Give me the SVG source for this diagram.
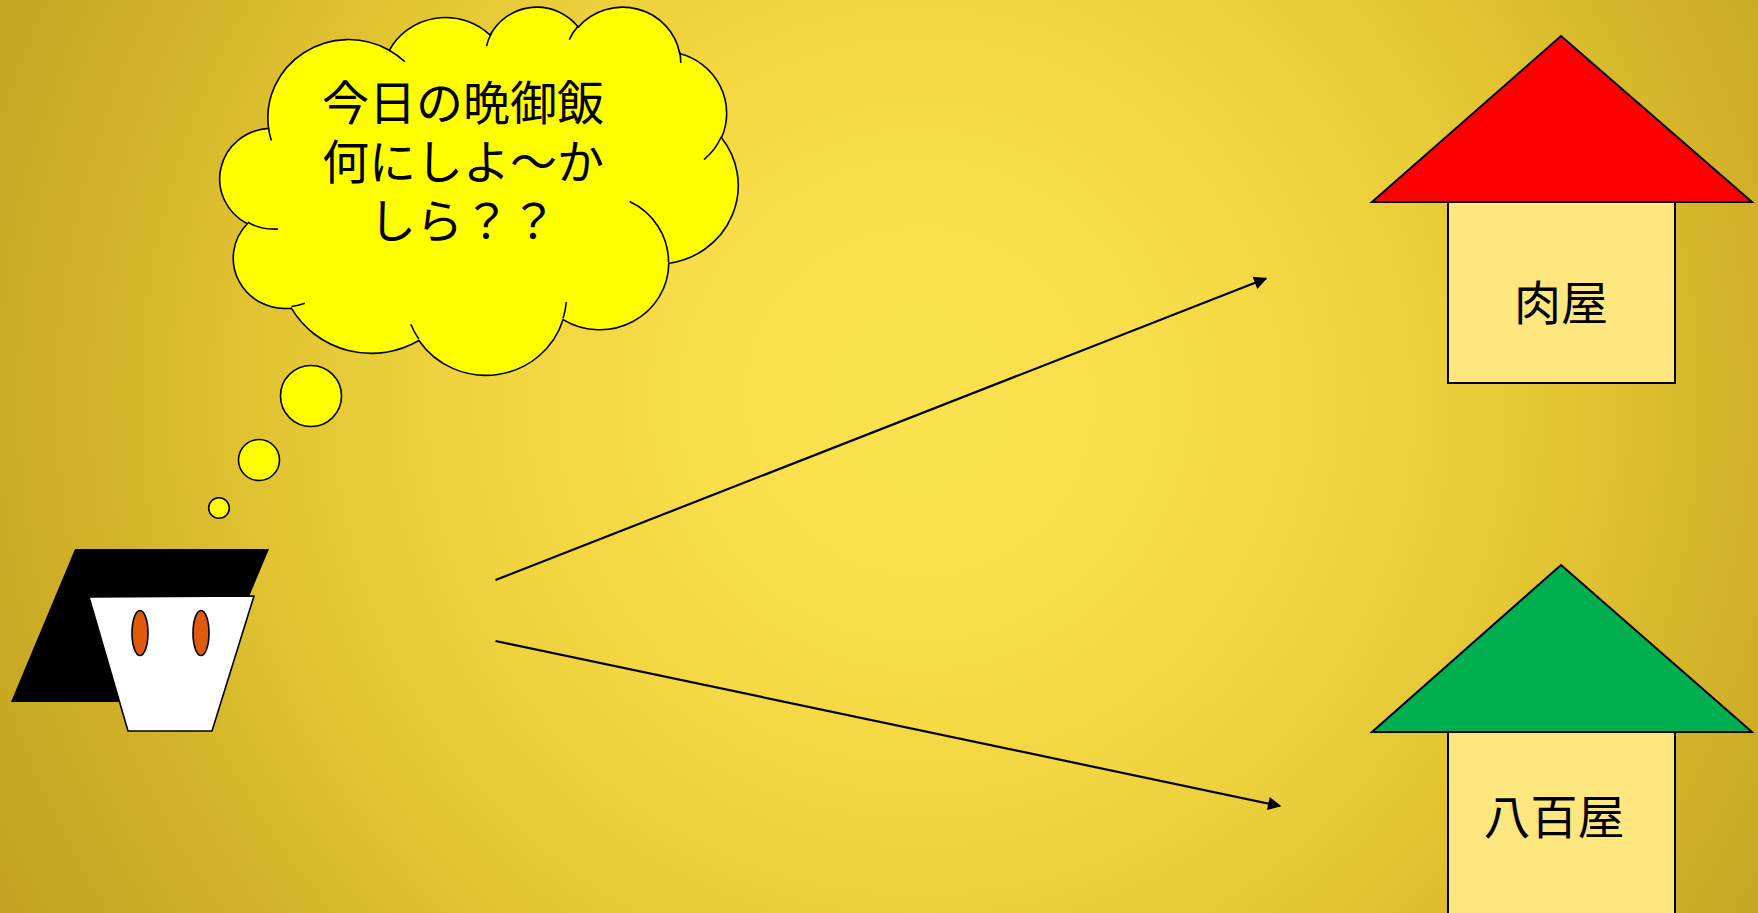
<svg xmlns="http://www.w3.org/2000/svg" width="1758" height="913" viewBox="0 0 1758 913">
  <defs>
    <radialGradient id="bg" gradientUnits="userSpaceOnUse" cx="920" cy="400" r="1060">
      <stop offset="0" stop-color="#FAE24F"/>
      <stop offset="0.22" stop-color="#F8DE4A"/>
      <stop offset="0.42" stop-color="#F0D43F"/>
      <stop offset="0.62" stop-color="#E2C433"/>
      <stop offset="0.8" stop-color="#D0B128"/>
      <stop offset="1" stop-color="#C2A220"/>
    </radialGradient>
    <marker id="arrow" viewBox="0 0 10 10" refX="9" refY="5" markerWidth="7" markerHeight="6" markerUnits="strokeWidth" orient="auto">
      <path d="M0,0 L10,5 L0,10 Z" fill="#000"/>
    </marker>
    <style>
      .outline { stroke: #000; stroke-width: 1.6; }
      .label { font-family: "Noto Sans CJK JP", "Noto Sans CJK SC", sans-serif; font-size: 47px; fill: #000; text-anchor: middle; }
      .wall { fill: #FFE780; stroke: #000; stroke-width: 2; }
      .roof { stroke: #000; stroke-width: 2; stroke-linejoin: miter; }
      .connector { stroke: #000; stroke-width: 2.2; fill: none; marker-end: url(#arrow); }
    </style>
  </defs>

  <rect x="0" y="0" width="1758" height="913" fill="url(#bg)"/>

  <!-- thought cloud -->
  <g id="thought">
    <path class="outline" fill="#FFFF00" d="M268.6,128.4 A80.66,78.29 0 0 1 389.3,50.3 A63.70,61.90 0 0 1 490.2,35.2 A52.14,50.64 0 0 1 578.3,27.1 A58.01,56.18 0 0 1 679.7,53.5 A63.70,61.96 0 0 1 721.5,137.7 A80.92,78.54 0 0 1 668.8,263.3 A69.10,67.02 0 0 1 563.1,319.6 A80.65,78.50 0 0 1 418.9,340.5 A92.21,89.81 0 0 1 291.4,308.2 A52.08,50.41 0 0 1 247.3,223.7 A51.90,50.64 0 0 1 268.6,128.4 Z"/>
    <path class="outline" fill="none" d="M278.1,229.0 A51.90,50.64 0 0 1 247.8,222.2 M304.8,303.3 A52.08,50.41 0 0 1 291.5,306.5 M418.8,339.0 A80.65,78.50 0 0 1 410.8,324.2 M566.3,302.0 A80.65,78.50 0 0 1 563.1,318.3 M629.7,201.5 A69.10,67.02 0 0 1 668.5,262.3 M721.3,136.8 A63.70,61.96 0 0 1 704.0,159.6 M679.8,52.2 A58.01,56.18 0 0 1 680.7,63.0 M569.3,39.7 A58.01,56.18 0 0 1 578.2,25.9 M486.5,46.2 A52.14,50.64 0 0 1 491.6,32.8 M389.2,50.2 A80.66,78.29 0 0 1 404.8,61.7 M271.3,140.5 A80.66,78.29 0 0 1 268.6,128.4"/>
    <text class="label" x="463" y="120">今日の晩御飯</text>
    <text class="label" x="463" y="179">何にしよ～か</text>
    <text class="label" x="463" y="238">しら？？</text>
    <circle class="outline" fill="#FFFF00" cx="311" cy="396" r="30.5"/>
    <circle class="outline" fill="#FFFF00" cx="259" cy="460" r="20.5"/>
    <circle class="outline" fill="#FFFF00" cx="219" cy="508" r="10.3"/>
  </g>

  <!-- person -->
  <g id="person">
    <polygon points="75,549 269,549 205,702 11,702" fill="#000"/>
    <polygon class="outline" points="89,597 254,596 212,731 128,731" fill="#FFFFFF"/>
    <ellipse class="outline" cx="140" cy="633" rx="8" ry="22.5" fill="#E05A0E"/>
    <ellipse class="outline" cx="201" cy="633" rx="8" ry="22.5" fill="#E05A0E"/>
  </g>

  <!-- butcher -->
  <g id="butcher">
    <rect class="wall" x="1448" y="202" width="227" height="181"/>
    <polygon class="roof" points="1561,36 1752,202 1372,202" fill="#FF0000"/>
    <text class="label" x="1561" y="320">肉屋</text>
  </g>

  <!-- greengrocer -->
  <g id="greengrocer">
    <rect class="wall" x="1448" y="732" width="227" height="190"/>
    <polygon class="roof" points="1561,565 1752,732 1372,732" fill="#00B050"/>
    <text class="label" x="1554" y="834">八百屋</text>
  </g>

  <!-- connectors -->
  <g id="connectors">
    <line class="connector" x1="495.5" y1="580" x2="1266" y2="278.5"/>
    <line class="connector" x1="495.5" y1="641" x2="1280" y2="806"/>
  </g>
</svg>
